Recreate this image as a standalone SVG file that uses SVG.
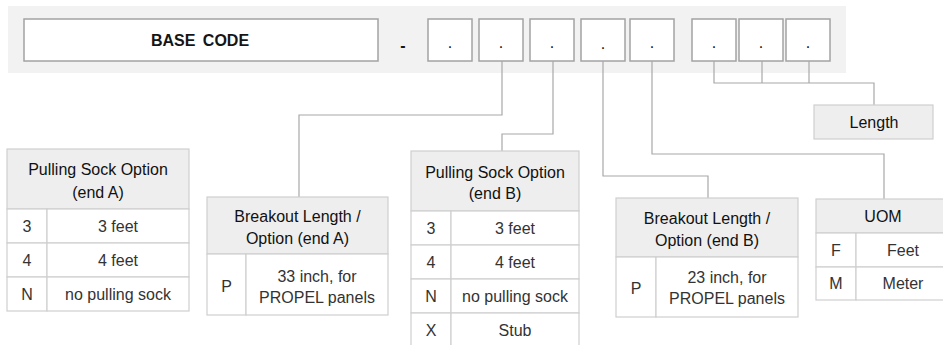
<svg xmlns="http://www.w3.org/2000/svg" width="943" height="345" viewBox="0 0 943 345">
<style>
text{font-family:"Liberation Sans",Arial,sans-serif;font-size:16px;text-anchor:middle}
.hd{fill:#111111}
.bd{fill:#333333}
.box{fill:#ffffff;stroke:#a3a3a3;stroke-width:1.5}
.th{fill:#eeeeee;stroke:#cfcfcf;stroke-width:1.2}
.tc{fill:#ffffff;stroke:#cfcfcf;stroke-width:1.2}
.conn{fill:none;stroke:#a8a8a8;stroke-width:1.2}
</style>
<rect width="943" height="345" fill="#ffffff"/>
<g id="code-bar">
<rect x="8" y="6" width="838" height="67" fill="#f2f2f2"/>
<rect class="box" x="24" y="19" width="354" height="42"/>
<text x="200" y="46" font-weight="bold" fill="#151515" word-spacing="3">BASE CODE</text>
<text x="403" y="51" font-weight="bold" font-size="30" fill="#151515">-</text>
<rect class="box" x="428" y="19" width="44" height="42"/><text x="450" y="48" fill="#151515">.</text>
<rect class="box" x="479" y="19" width="44" height="42"/><text x="501" y="48" fill="#151515">.</text>
<rect class="box" x="530" y="19" width="44" height="42"/><text x="552" y="48" fill="#151515">.</text>
<rect class="box" x="581" y="19" width="44" height="42"/><text x="603" y="49" fill="#151515">.</text>
<rect class="box" x="630" y="19" width="44" height="42"/><text x="652" y="48" fill="#151515">.</text>
<rect class="box" x="692" y="19" width="44" height="42"/><text x="714" y="48" fill="#151515">.</text>
<rect class="box" x="739" y="19" width="44" height="42"/><text x="761" y="48" fill="#151515">.</text>
<rect class="box" x="786" y="19" width="44" height="42"/><text x="808" y="48" fill="#151515">.</text>
</g>
<g id="connectors">
<polyline class="conn" points="502,61 502,115 299,115 299,197"/>
<polyline class="conn" points="553,61 553,134 502,134 502,151"/>
<polyline class="conn" points="603,61 603,176 708,176 708,198"/>
<polyline class="conn" points="652,61 652,154 884,154 884,199"/>
<polyline class="conn" points="714,61 714,83 874,83 874,105"/>
<line class="conn" x1="762" y1="61" x2="762" y2="83"/>
<line class="conn" x1="809" y1="61" x2="809" y2="83"/>
</g>
<g id="length">
<rect class="th" x="814" y="105" width="119" height="34"/>
<text class="hd" x="874" y="127.5">Length</text>
</g>
<g id="pulling-sock-a">
<rect class="th" x="7" y="149" width="182" height="60"/>
<text class="hd" x="98" y="175">Pulling Sock Option</text>
<text class="hd" x="98" y="198">(end A)</text>
<rect class="tc" x="7" y="209" width="40" height="34"/><rect class="tc" x="47" y="209" width="142" height="34"/>
<rect class="tc" x="7" y="243" width="40" height="34"/><rect class="tc" x="47" y="243" width="142" height="34"/>
<rect class="tc" x="7" y="277" width="40" height="34"/><rect class="tc" x="47" y="277" width="142" height="34"/>
<text class="bd" x="27" y="232">3</text><text class="bd" x="118" y="232">3 feet</text>
<text class="bd" x="27" y="266">4</text><text class="bd" x="118" y="266">4 feet</text>
<text class="bd" x="27" y="300">N</text><text class="bd" x="118" y="300">no pulling sock</text>
</g>
<g id="breakout-a">
<rect class="th" x="207" y="197" width="181" height="57"/>
<text class="hd" x="297.5" y="222">Breakout Length /</text>
<text class="hd" x="297.5" y="244">Option (end A)</text>
<rect class="tc" x="207" y="254" width="39" height="61"/><rect class="tc" x="246" y="254" width="142" height="61"/>
<text class="bd" x="226.5" y="292">P</text>
<text class="bd" x="317" y="282">33 inch, for</text>
<text class="bd" x="317" y="303">PROPEL panels</text>
</g>
<g id="pulling-sock-b">
<rect class="th" x="411" y="151" width="168" height="60"/>
<text class="hd" x="495" y="178">Pulling Sock Option</text>
<text class="hd" x="495" y="199">(end B)</text>
<rect class="tc" x="411" y="211" width="40" height="34"/><rect class="tc" x="451" y="211" width="128" height="34"/>
<rect class="tc" x="411" y="245" width="40" height="34"/><rect class="tc" x="451" y="245" width="128" height="34"/>
<rect class="tc" x="411" y="279" width="40" height="34"/><rect class="tc" x="451" y="279" width="128" height="34"/>
<rect class="tc" x="411" y="313" width="40" height="36"/><rect class="tc" x="451" y="313" width="128" height="36"/>
<text class="bd" x="431" y="234">3</text><text class="bd" x="515" y="234">3 feet</text>
<text class="bd" x="431" y="268">4</text><text class="bd" x="515" y="268">4 feet</text>
<text class="bd" x="431" y="302">N</text><text class="bd" x="515" y="302">no pulling sock</text>
<text class="bd" x="431" y="336">X</text><text class="bd" x="515" y="336">Stub</text>
</g>
<g id="breakout-b">
<rect class="th" x="616" y="198" width="182" height="59"/>
<text class="hd" x="707" y="224">Breakout Length /</text>
<text class="hd" x="707" y="246">Option (end B)</text>
<rect class="tc" x="616" y="257" width="40" height="60"/><rect class="tc" x="656" y="257" width="142" height="60"/>
<text class="bd" x="636" y="294">P</text>
<text class="bd" x="727" y="283">23 inch, for</text>
<text class="bd" x="727" y="304">PROPEL panels</text>
</g>
<g id="uom">
<rect class="th" x="816" y="199" width="134" height="34"/>
<text class="hd" x="883" y="221.5">UOM</text>
<rect class="tc" x="816" y="233" width="40" height="34"/><rect class="tc" x="856" y="233" width="94" height="34"/>
<rect class="tc" x="816" y="267" width="40" height="33"/><rect class="tc" x="856" y="267" width="94" height="33"/>
<text class="bd" x="836" y="256">F</text><text class="bd" x="903" y="256">Feet</text>
<text class="bd" x="836" y="289">M</text><text class="bd" x="903" y="289">Meter</text>
</g>
</svg>
